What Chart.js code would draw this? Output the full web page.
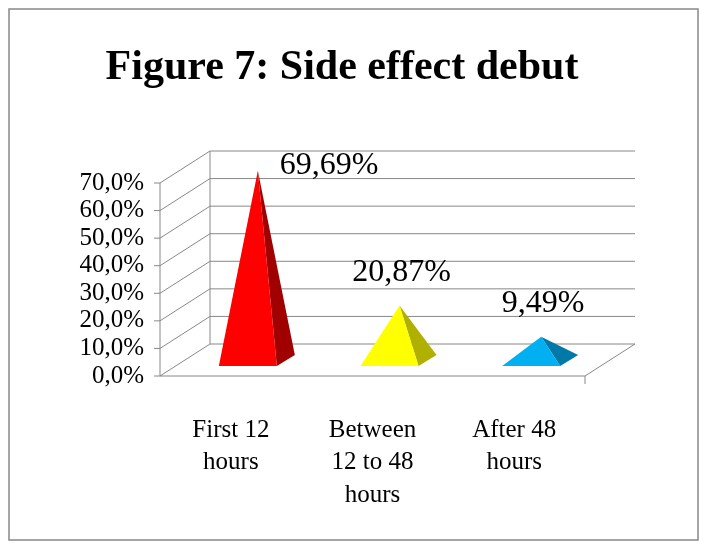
<!DOCTYPE html>
<html><head><meta charset="utf-8">
<script src="https://cdn.jsdelivr.net/npm/chart.js@4/dist/chart.umd.min.js"></script>
<style>html,body{margin:0;padding:0;background:#fff}</style>
</head><body>
<canvas id="c" width="708" height="550" style="width:708px;height:550px"></canvas>
<script>
const categories = [["First 12","hours"],["Between","12 to 48","hours"],["After 48","hours"]];
const values = [69.69, 20.87, 9.49];
const valueLabels = ["69,69%","20,87%","9,49%"];
const colors = ["#ff0000","#ffff00","#00b0f0"];
const darkColors = ["#a00000","#b0b000","#0078a8"];
const title = "Figure 7: Side effect debut";
const DX = 50, DY = -32;
const FONT = "'Liberation Serif','Times New Roman',serif";

const deco = {
  id:'deco',
  beforeDraw(chart){
    const {ctx, chartArea:a, scales:{y}} = chart;
    ctx.save();
    ctx.fillStyle='#fff'; ctx.fillRect(0,0,708,550);
    ctx.strokeStyle='#888'; ctx.lineWidth=1.5;
    ctx.strokeRect(9,9,689,531);
    ctx.fillStyle='#000'; ctx.font="bold 42px "+FONT; ctx.textAlign='center'; ctx.textBaseline='middle';
    ctx.fillText(title, 342, 68);
    ctx.strokeStyle='#888'; ctx.lineWidth=1;
    y.ticks.forEach(t=>{
      const py = y.getPixelForValue(t.value);
      ctx.beginPath();
      ctx.moveTo(a.left-6,py); ctx.lineTo(a.left,py);
      ctx.lineTo(a.left+DX,py+DY); ctx.lineTo(a.right+DX,py+DY); ctx.stroke();
    });
    ctx.beginPath();
    ctx.moveTo(a.left,a.top); ctx.lineTo(a.left,a.bottom); ctx.lineTo(a.right,a.bottom);
    ctx.lineTo(a.right+DX,a.bottom+DY);
    ctx.moveTo(a.left+DX,a.top+DY); ctx.lineTo(a.left+DX,a.bottom+DY);
    ctx.moveTo(a.right,a.bottom); ctx.lineTo(a.right,a.bottom+8);
    ctx.stroke();
    ctx.restore();
  },
  afterDatasetsDraw(chart){
    const {ctx, chartArea:a} = chart;
    const meta = chart.getDatasetMeta(0);
    ctx.save();
    meta.data.forEach((bar,i)=>{
      const cx = bar.x+18, b = a.bottom-10;
      const apex=[cx+9, bar.y-13], fl=[cx-30,b], fr=[cx+28,b], br=[cx+46,b-11];
      ctx.fillStyle=darkColors[i];
      ctx.beginPath(); ctx.moveTo(...apex); ctx.lineTo(...fr); ctx.lineTo(...br); ctx.closePath(); ctx.fill();
      ctx.fillStyle=colors[i];
      ctx.beginPath(); ctx.moveTo(...apex); ctx.lineTo(...fl); ctx.lineTo(...fr); ctx.closePath(); ctx.fill();
      ctx.fillStyle='#000'; ctx.font="32px "+FONT; ctx.textBaseline='middle';
      let ty = apex[1]-33;
      if (ty < a.top) { ctx.textAlign='left'; ctx.fillText(valueLabels[i], apex[0]+22, apex[1]-5); }
      else { ctx.textAlign='center'; ctx.fillText(valueLabels[i], apex[0]+2, ty); }
    });
    ctx.restore();
  }
};

new Chart(document.getElementById('c'),{
  type:'bar',
  data:{labels:categories, datasets:[{data:values, backgroundColor:'rgba(0,0,0,0)'}]},
  options:{
    responsive:false, animation:false, devicePixelRatio:1,
    layout:{padding:{left:30,right:123,top:183,bottom:40}},
    plugins:{legend:{display:false},tooltip:{enabled:false}},
    scales:{
      y:{min:0,max:70,border:{display:false},grid:{display:false},
        afterFit(s){s.width=130;},
        ticks:{stepSize:10,autoSkip:false,color:'#000',padding:8,font:{family:FONT,size:25},
          callback:v=>v.toFixed(1).replace('.',',')+'%'}},
      x:{border:{display:false},grid:{display:false},
        afterFit(s){s.height=134;},
        ticks:{color:'#000',padding:30,maxRotation:0,autoSkip:false,font:{family:FONT,size:25,lineHeight:1.3}}}
    }
  },
  plugins:[deco]
});
</script>
</body></html>
